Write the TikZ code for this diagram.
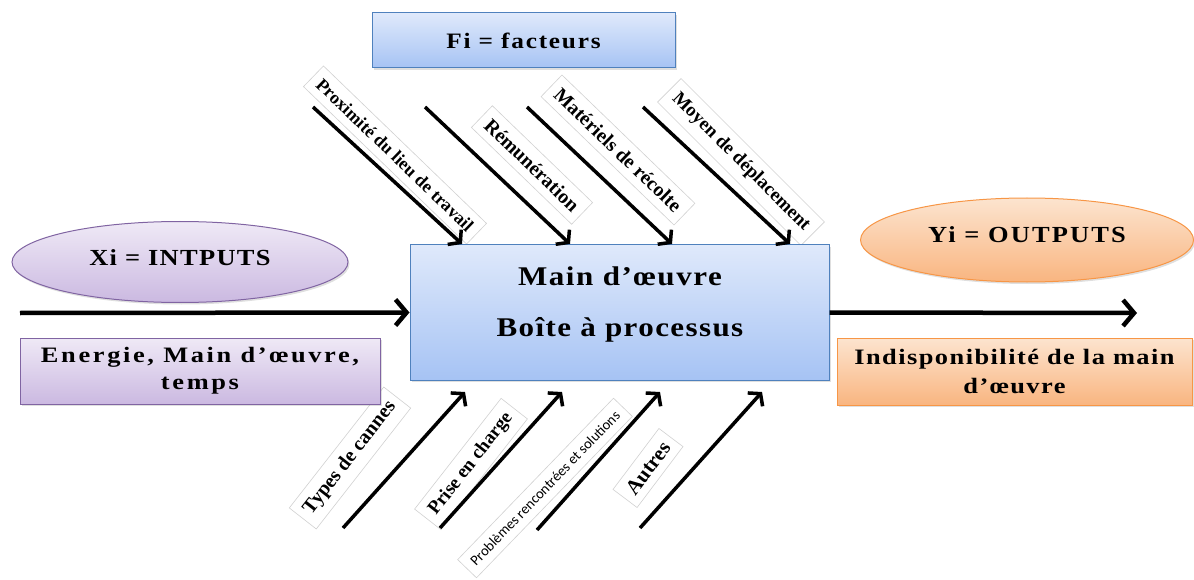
\documentclass[tikz,border=0pt]{standalone}
\usepackage{fontspec}
\setmainfont{Liberation Serif}
\newfontfamily\calib{Carlito}
\usetikzlibrary{shadows,shapes.geometric,arrows.meta}
\definecolor{blueD}{HTML}{4F81BD}
\definecolor{blueT}{HTML}{DFE9FB}
\definecolor{blueBt}{HTML}{A6C3F4}
\definecolor{purD}{HTML}{8064A2}
\definecolor{purT}{HTML}{EFE9F6}
\definecolor{purBt}{HTML}{CBB9E1}
\definecolor{orD}{HTML}{F79646}
\definecolor{orT}{HTML}{FCE4CF}
\definecolor{orBt}{HTML}{F9B580}
\newcommand\wtxt[4]{\scalebox{#1}[1]{\rmfamily\bfseries\fontsize{#2}{#2}\selectfont\addfontfeatures{LetterSpace=#3}#4}}
\tikzset{
  shad/.style={drop shadow={opacity=0.25,shadow xshift=1.5pt,shadow yshift=-2pt}},
  bluebox/.style={rectangle,draw=blueD,line width=1pt,top color=blueT,bottom color=blueBt,shad},
  purbox/.style={draw=purD,line width=1pt,top color=purT,bottom color=purBt,shad},
  orbox/.style={draw=orD,line width=1pt,top color=orT,bottom color=orBt,shad},
  lab/.style={draw=black!18,line width=0.6pt,fill=white,inner xsep=8pt,inner ysep=8pt,font=\rmfamily\bfseries},
  bigarrow/.style={line width=4.5pt,-{Straight Barb[length=11pt,width=26pt]}},
  smallarrow/.style={line width=3.5pt,-{Straight Barb[length=8pt,width=20pt]}},
}
\begin{document}
\begin{tikzpicture}[x=1pt,y=-1pt]
\useasboundingbox (0,0) rectangle (1194,580);
% factor labels (top)
\node[lab,rotate=-44] (l1) at (395,155) {\fontsize{18}{20}\selectfont Proximité du lieu de travail};
\node[lab,rotate=-44] (l2) at (532,165) {\fontsize{20}{22}\selectfont Rémunération};
\node[lab,rotate=-44] (l3) at (618,150) {\fontsize{20}{22}\selectfont Matériels de récolte};
\node[lab,rotate=-45] (l4) at (741,162) {\fontsize{19}{21}\selectfont Moyen de déplacement};
% factor labels (bottom)
\node[lab,rotate=52] (b1) at (350,458) {\fontsize{20}{22}\selectfont Types de cannes};
\node[lab,rotate=52] (b2) at (471,464) {\fontsize{19}{21}\selectfont Prise en charge};
\node[lab,rotate=46,font=\calib] (b3) at (545,488) {\fontsize{14.5}{16}\selectfont Problèmes rencontrées et solutions};
\node[lab,rotate=53] (b4) at (648,468) {\fontsize{21}{23}\selectfont Autres};
% boxes
\node[bluebox,minimum width=303pt,minimum height=55pt] (fi) at (523.5,40.5) {\wtxt{1.15}{22}{7}{Fi = facteurs}};
\node[bluebox,minimum width=419pt,minimum height=135pt] (main) at (619.5,312.5) {};
\node (mt1) at (620,276) {\wtxt{1.15}{27}{5}{Main d’œuvre}};
\node (mt2) at (620,330) {\wtxt{1.15}{27}{4.5}{Boîte à processus}};
\node[purbox,ellipse,minimum width=336pt,minimum height=81pt,inner sep=0pt] (xi) at (180,262) {\raisebox{8pt}{\wtxt{1.15}{23}{5}{Xi = INTPUTS}}};
\node[purbox,rectangle,minimum width=360pt,minimum height=66pt,align=center] (en) at (200,371) {\wtxt{1.2}{22}{10}{Energie, Main d’œuvre,}\\[9pt] \wtxt{1.2}{22}{10}{temps}};
\node[orbox,ellipse,minimum width=333pt,minimum height=84pt,inner sep=0pt] (yi) at (1027,240) {\raisebox{10pt}{\wtxt{1.15}{23}{8}{Yi = OUTPUTS}}};
\node[orbox,rectangle,minimum width=355pt,minimum height=67pt,align=center] (ind) at (1014.5,371.5) {\wtxt{1.2}{22}{5.5}{Indisponibilité de la main}\\[9pt] \wtxt{1.2}{22}{5.5}{d’œuvre}};
% coordinates
\coordinate (inS) at (20,313);
\coordinate (outE) at (1137,313);
\coordinate (t1s) at (313,107); \coordinate (t1e) at (462,244);
\coordinate (t2s) at (425,107); \coordinate (t2e) at (570,244);
\coordinate (t3s) at (527,107); \coordinate (t3e) at (672,244);
\coordinate (t4s) at (643,107); \coordinate (t4e) at (790,244);
\coordinate (b1s) at (343,528); \coordinate (b1e) at (465,392);
\coordinate (b2s) at (440,528); \coordinate (b2e) at (562,392);
\coordinate (b3s) at (537,530); \coordinate (b3e) at (660,392);
\coordinate (b4s) at (640,528); \coordinate (b4e) at (762,392);
% arrows
\draw[bigarrow] (inS) -- (main.west);
\draw[bigarrow] (main.east) -- (outE);
\foreach \a in {t1,t2,t3,t4,b1,b2,b3,b4}{
  \draw[smallarrow] (\a s) -- (\a e);
}
\end{tikzpicture}
\end{document}
